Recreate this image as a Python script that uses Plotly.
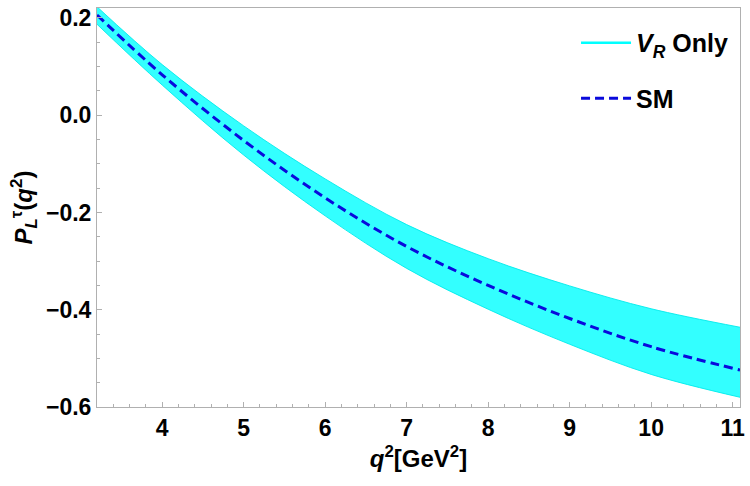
import plotly.graph_objects as go

q2 = [3.2, 4.0, 5.0, 6.0, 7.0, 8.0, 9.0, 10.0, 11.09]
sm = [0.206, 0.083, -0.052, -0.170, -0.270, -0.350, -0.418, -0.476, -0.524]
vr_upper = [0.223, 0.104, -0.022, -0.131, -0.225, -0.295, -0.351, -0.398, -0.436]
vr_lower = [0.187, 0.062, -0.082, -0.207, -0.315, -0.399, -0.471, -0.533, -0.580]

x_ticks = [4, 5, 6, 7, 8, 9, 10, 11]
y_ticks = [-0.6, -0.4, -0.2, 0.0, 0.2]
y_tick_text = ["\u22120.6", "\u22120.4", "\u22120.2", "0.0", "0.2"]

FONT = "Liberation Sans, Arial, sans-serif"
CYAN = "rgb(0,255,255)"
EDGE = "rgba(0,235,235,0.9)"
BLUE = "rgb(10,10,220)"

fig = go.Figure()
fig.add_trace(go.Scatter(x=q2, y=vr_lower, mode="lines", line=dict(color=EDGE, width=1, shape="spline"),
                         showlegend=False, hoverinfo="skip"))
fig.add_trace(go.Scatter(x=q2, y=vr_upper, mode="lines", line=dict(color=EDGE, width=1, shape="spline"),
                         fill="tonexty", fillcolor="rgba(0,255,255,0.8)", showlegend=False, hoverinfo="skip"))
fig.add_trace(go.Scatter(x=[None], y=[None], mode="lines", line=dict(color=CYAN, width=2.5),
                         name="<i>V</i><sub><i>R</i></sub> Only", legendgroup="a"))
fig.add_trace(go.Scatter(x=q2, y=sm, mode="lines", line=dict(color=BLUE, width=3, dash="9px,5px", shape="spline"),
                         name="SM", legendgroup="b"))

axis_common = dict(
    showline=True, linecolor="#b0b0b0", linewidth=1, mirror=True,
    ticks="inside", ticklen=5, tickcolor="#b0b0b0", tickwidth=1,
    showgrid=False, zeroline=False,
    tickfont=dict(family=FONT, size=23, color="black", weight="bold"),
)

fig.update_xaxes(range=[3.2, 11.09], tickvals=x_ticks, ticktext=[str(v) for v in x_ticks],
                 minor=dict(dtick=0.2, tick0=4, ticks="inside", ticklen=3, tickcolor="#b0b0b0"),
                 title=dict(text="<b><i>q</i><sup>2</sup>[GeV<sup>2</sup>]</b>",
                            font=dict(family=FONT, size=24, color="black"), standoff=10),
                 **axis_common)
fig.update_yaxes(range=[-0.6, 0.2204], tickvals=y_ticks, ticktext=y_tick_text,
                 minor=dict(dtick=0.05, tick0=0, ticks="inside", ticklen=3, tickcolor="#b0b0b0"),
                 title=dict(text="<b><i>P</i><sub><i>L</i></sub><sup>τ</sup>(<i>q</i><sup>2</sup>)</b>",
                            font=dict(family=FONT, size=24, color="black"), standoff=6),
                 **axis_common)

fig.update_layout(
    width=750, height=486,
    margin=dict(l=97, r=5, t=5, b=79),
    plot_bgcolor="white", paper_bgcolor="white",
    legend=dict(x=0.745, y=0.97, xanchor="left", yanchor="top", bgcolor="rgba(0,0,0,0)",
                font=dict(family=FONT, size=25, color="black", weight="bold"),
                tracegroupgap=20, itemwidth=50),
)

fig.write_html("out.html")
